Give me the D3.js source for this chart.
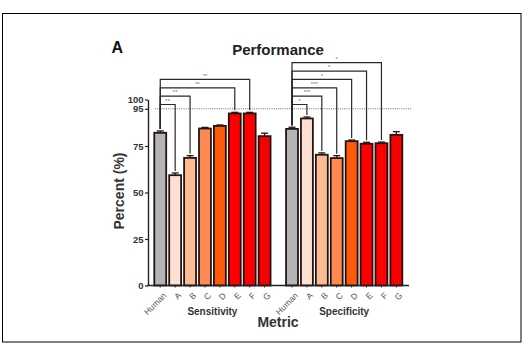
<!DOCTYPE html>
<html><head><meta charset="utf-8">
<script src="https://cdn.jsdelivr.net/npm/d3@7"></script>
<style>body{margin:0;background:#fff;} svg{display:block;}</style>
</head><body>
<svg id="c" width="526" height="355"></svg>
<script>
const groups = ["Sensitivity", "Specificity"];
const categories = ["Human", "A", "B", "C", "D", "E", "F", "G"];
const sensitivity = [82.1, 59.3, 68.6, 84.4, 85.8, 92.5, 92.5, 80.3];
const sensitivityErr = [1.0, 1.2, 1.2, 0.6, 0.5, 0.6, 0.6, 1.6];
const specificity = [84.2, 89.8, 70.3, 68.5, 77.6, 76.2, 76.5, 81.0];
const specificityErr = [0.9, 0.8, 1.0, 1.3, 0.6, 0.8, 0.6, 1.7];
const colors = ["#b4b4b4", "#fee0d2", "#fdbb94", "#fc8a52", "#ff5a0a", "#ff0000", "#ff0000", "#f60000"];
const yTicks = [0, 25, 50, 75, 95, 100];
const referenceLine = 95;
// significance comparisons: [compared category, label]
const sensComparisons = [["A", "**"], ["B", "**"], ["E", "**"], ["F", "**"]];
const specComparisons = [["A", "*"], ["B", "***"], ["C", "***"], ["D", "*"], ["E", "*"], ["F", "*"]];

const font = "Liberation Sans, Arial, sans-serif";
const svg = d3.select("#c");
svg.append("rect").attr("x", 2.5).attr("y", 13.5).attr("width", 518.5).attr("height", 328.5)
  .attr("fill", "none").attr("stroke", "#000").attr("stroke-width", 1);

const y = d3.scaleLinear().domain([0, 100]).range([285.5, 99.5]);
const x0 = d3.scaleBand().domain(groups).range([152.8, 403.8]).paddingInner(0.095);
const x1 = d3.scaleBand().domain(categories).range([0, x0.bandwidth()]).paddingInner(0.2).paddingOuter(0.1);

const data = [];
groups.forEach((g, gi) => {
  const vals = gi === 0 ? sensitivity : specificity;
  const errs = gi === 0 ? sensitivityErr : specificityErr;
  categories.forEach((c, i) => data.push({ g, c, i, v: vals[i], e: errs[i] }));
});
const cx = d => x0(d.g) + x1(d.c) + x1.bandwidth() / 2;

// reference dotted line
svg.append("line").attr("x1", 155).attr("x2", 412).attr("y1", y(referenceLine)).attr("y2", y(referenceLine))
  .attr("stroke", "#444").attr("stroke-width", 0.8).attr("stroke-dasharray", "1,1.2");

// bars
const stroke = "#261414";
svg.selectAll("rect.bar").data(data).enter().append("rect").attr("class", "bar")
  .attr("x", d => x0(d.g) + x1(d.c)).attr("width", x1.bandwidth())
  .attr("y", d => y(d.v)).attr("height", d => y(0) - y(d.v))
  .attr("fill", d => colors[d.i]).attr("stroke", stroke).attr("stroke-width", 1.8);

// error bars
const eb = svg.selectAll("g.err").data(data).enter().append("g").attr("stroke", stroke).attr("stroke-width", 1.3);
eb.append("line").attr("x1", cx).attr("x2", cx).attr("y1", d => y(d.v)).attr("y2", d => y(d.v + d.e));
eb.append("line").attr("x1", d => cx(d) - 3.5).attr("x2", d => cx(d) + 3.5).attr("y1", d => y(d.v + d.e)).attr("y2", d => y(d.v + d.e));

// significance brackets
function brackets(group, comps) {
  const vals = group === "Sensitivity" ? sensitivity : specificity;
  const errs = group === "Sensitivity" ? sensitivityErr : specificityErr;
  const hx = x0(group) + x1("Human") + x1.bandwidth() / 2;
  const hTop = y(vals[0] + errs[0]) - 2;
  comps.forEach(([cat, lab], k) => {
    const i = categories.indexOf(cat);
    const tx = x0(group) + x1(cat) + x1.bandwidth() / 2;
    const tTop = y(vals[i] + errs[i]) - 2;
    const ly = y(97.3 + 4.5 * k);
    svg.append("path").attr("d", `M${hx},${hTop}V${ly}H${tx}V${tTop}`)
      .attr("fill", "none").attr("stroke", "#2a2a2a").attr("stroke-width", 1.2);
    svg.append("text").attr("x", (hx + tx) / 2).attr("y", ly - 1.8).attr("text-anchor", "middle")
      .attr("font-family", font).attr("font-size", 6).attr("fill", "#777").text(lab);
  });
}
brackets("Sensitivity", sensComparisons);
brackets("Specificity", specComparisons);

// y axis
const yAxis = svg.append("g").attr("transform", "translate(148,0)")
  .call(d3.axisLeft(y).tickValues(yTicks).tickSize(3).tickPadding(1.5).tickSizeOuter(0));
yAxis.select(".domain").attr("stroke", "#222").attr("stroke-width", 1.4);
yAxis.selectAll(".tick line").attr("stroke", "#222").attr("stroke-width", 1.2);
yAxis.selectAll("text").attr("font-family", font).attr("font-size", 9.5)
  .attr("font-weight", "bold").attr("fill", "#333");

// x axis line
svg.append("line").attr("x1", 147.3).attr("x2", 409).attr("y1", y(0)).attr("y2", y(0))
  .attr("stroke", "#222").attr("stroke-width", 1.4);

// x tick labels and group labels
groups.forEach(g => {
  const ax = svg.append("g").attr("transform", `translate(${x0(g)},${y(0)})`)
    .call(d3.axisBottom(x1).tickSize(2).tickSizeOuter(0));
  ax.select(".domain").remove();
  ax.selectAll(".tick line").attr("stroke", "#222");
  ax.selectAll("text").attr("font-family", font).attr("font-size", 8.5)
    .attr("fill", "#555").attr("text-anchor", "end")
    .attr("transform", "translate(3,7) rotate(-45)").attr("y", 0).attr("x", 0).attr("dy", "0.6em");
  svg.append("text").attr("x", x0(g) + x0.bandwidth() / 2).attr("y", 315).attr("text-anchor", "middle")
    .attr("font-family", font).attr("font-size", 10).attr("font-weight", "bold")
    .attr("fill", "#333").text(g);
});

// titles
svg.append("text").attr("x", 278).attr("y", 54.5).attr("text-anchor", "middle").attr("font-family", font)
  .attr("font-size", 15).attr("font-weight", "bold").attr("fill", "#222").text("Performance");
svg.append("text").attr("x", 111.5).attr("y", 53.3).attr("font-family", font)
  .attr("font-size", 16).attr("font-weight", "bold").attr("fill", "#111").text("A");
svg.append("text").attr("transform", "translate(124,191) rotate(-90)").attr("text-anchor", "middle")
  .attr("font-family", font).attr("font-size", 14).attr("font-weight", "bold").attr("fill", "#333").text("Percent (%)");
svg.append("text").attr("x", 278).attr("y", 326.5).attr("text-anchor", "middle").attr("font-family", font)
  .attr("font-size", 14).attr("font-weight", "bold").attr("fill", "#333").text("Metric");
</script>
</body></html>
